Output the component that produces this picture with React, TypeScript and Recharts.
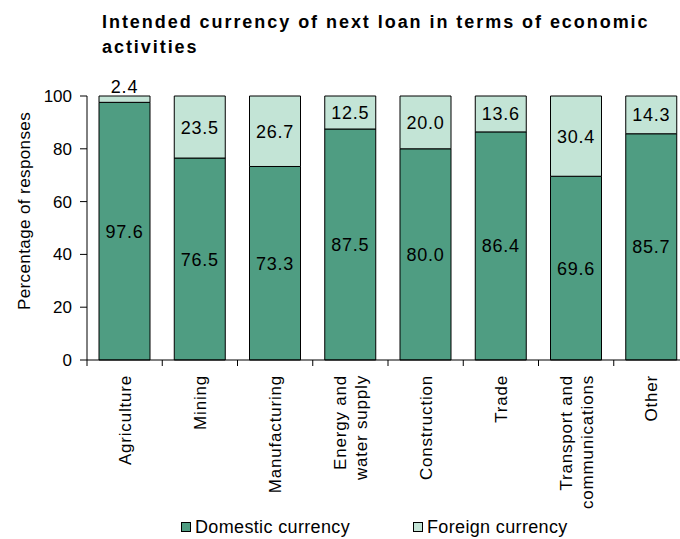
import React from "react";
import { Bar, BarChart, LabelList, Legend, XAxis, YAxis } from "recharts";

const categories = [
  "Agriculture",
  "Mining",
  "Manufacturing",
  "Energy and\nwater supply",
  "Construction",
  "Trade",
  "Transport and\ncommunications",
  "Other",
];
const domesticValues = [97.6, 76.5, 73.3, 87.5, 80.0, 86.4, 69.6, 85.7];
const foreignValues = [2.4, 23.5, 26.7, 12.5, 20.0, 13.6, 30.4, 14.3];
const yTicks = [0, 20, 40, 60, 80, 100];

const DOMESTIC_COLOR = "#4f9d82";
const FOREIGN_COLOR = "#c3e4d6";
const FONT = "'Liberation Sans', Arial, sans-serif";

const data = categories.map((name, i) => ({
  name,
  domestic: domesticValues[i],
  foreign: foreignValues[i],
}));

interface TickProps {
  x?: number;
  y?: number;
  index?: number;
  payload?: { value: string; offset?: number };
}

function CategoryTick({ x = 0, y = 0, index = 0, payload }: TickProps) {
  const half = payload?.offset ?? 37.6;
  const lines = String(payload?.value ?? "").split("\n");
  const lineHeight = 21;
  const ty = y + 15;
  return (
    <g>
      <line x1={x - half} y1={y} x2={x - half} y2={y + 6} stroke="#000" />
      {index === categories.length - 1 && <line x1={x + half} y1={y} x2={x + half} y2={y + 6} stroke="#000" />}
      <text
        x={x}
        y={ty}
        transform={`rotate(-90, ${x}, ${ty})`}
        textAnchor="end"
        fontSize={17}
        letterSpacing={0.8}
        fontFamily={FONT}
        fill="#000"
      >
        {lines.map((line, i) => (
          <tspan key={i} x={x} dy={i === 0 ? 6 - ((lines.length - 1) * lineHeight) / 2 : lineHeight}>
            {line}
          </tspan>
        ))}
      </text>
    </g>
  );
}

interface LabelProps {
  x?: number;
  y?: number;
  width?: number;
  height?: number;
  value?: number;
}

function ValueLabel({ x = 0, y = 0, width = 0, height = 0, value }: LabelProps) {
  if (value === undefined) return null;
  const small = height < 16;
  return (
    <text
      x={x + width / 2}
      y={small ? y - 3 : y + height / 2}
      dy={small ? 0 : "0.36em"}
      textAnchor="middle"
      fontSize={18}
      letterSpacing={0.8}
      fontFamily={FONT}
      fill="#000"
    >
      {Number(value).toFixed(1)}
    </text>
  );
}

function LegendContent() {
  const items = [
    { label: "Domestic currency", color: DOMESTIC_COLOR, left: 181 },
    { label: "Foreign currency", color: FOREIGN_COLOR, left: 413 },
  ];
  return (
    <div style={{ position: "relative", height: 30 }}>
      {items.map((it) => (
        <div
          key={it.label}
          style={{
            position: "absolute",
            left: it.left,
            top: 8,
            display: "flex",
            alignItems: "center",
            fontFamily: FONT,
            fontSize: 18,
            letterSpacing: 0.35,
            lineHeight: "20px",
            color: "#000",
            whiteSpace: "nowrap",
          }}
        >
          <span
            style={{
              display: "inline-block",
              width: 8,
              height: 8,
              background: it.color,
              border: "1px solid #000",
              marginRight: 4,
            }}
          />
          {it.label}
        </div>
      ))}
    </div>
  );
}

export default function App() {
  return (
    <div style={{ position: "absolute", left: 0, top: 0, width: 680, height: 539, overflow: "hidden", background: "#fff" }}>
      <BarChart
        width={700}
        height={539}
        data={data}
        margin={{ top: 96, right: 11, left: 0, bottom: 0 }}
        barSize={51}
      >
        <XAxis
          dataKey="name"
          interval={0}
          tickLine={false}
          tickSize={0}
          tickMargin={0}
          axisLine={{ stroke: "#000" }}
          height={149}
          tick={<CategoryTick />}
        />
        <YAxis
          width={87}
          domain={[0, 100]}
          ticks={yTicks}
          interval={0}
          tickSize={7}
          tickMargin={8}
          axisLine={{ stroke: "#000" }}
          tickLine={{ stroke: "#000" }}
          tick={{ fontSize: 17, fill: "#000", fontFamily: FONT }}
        />
        <Legend verticalAlign="bottom" height={30} content={<LegendContent />} />
        <Bar dataKey="domestic" name="Domestic currency" stackId="a" fill={DOMESTIC_COLOR} stroke="#000" strokeWidth={1} isAnimationActive={false}>
          <LabelList dataKey="domestic" content={<ValueLabel />} />
        </Bar>
        <Bar dataKey="foreign" name="Foreign currency" stackId="a" fill={FOREIGN_COLOR} stroke="#000" strokeWidth={1} isAnimationActive={false}>
          <LabelList dataKey="foreign" content={<ValueLabel />} />
        </Bar>
      </BarChart>
      <svg width={680} height={539} style={{ position: "absolute", left: 0, top: 0, pointerEvents: "none" }}>
        <text x={102} y={28} fontSize={18} fontWeight="bold" letterSpacing={1.95} fontFamily={FONT} fill="#000">
          Intended currency of next loan in terms of economic
        </text>
        <text x={102} y={53} fontSize={18} fontWeight="bold" letterSpacing={1.95} fontFamily={FONT} fill="#000">
          activities
        </text>
        <text x={30} y={211} transform="rotate(-90, 30, 211)" textAnchor="middle" fontSize={17} letterSpacing={0.4} fontFamily={FONT} fill="#000">
          Percentage of responses
        </text>
      </svg>
    </div>
  );
}
